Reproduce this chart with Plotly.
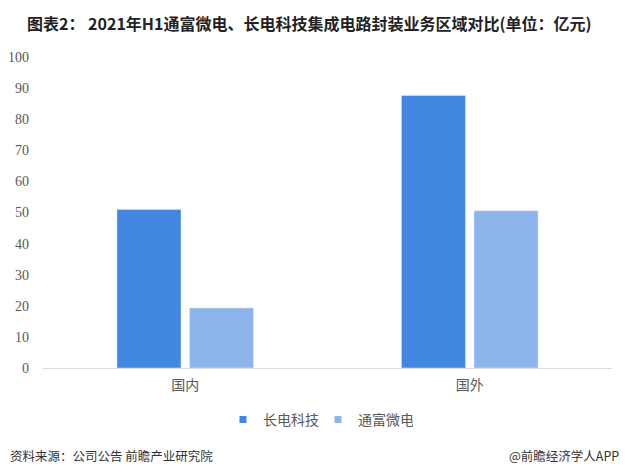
import plotly.graph_objects as go

categories = ["国内", "国外"]
changdian = [51, 87.6]
tongfu = [19.3, 50.6]
yticks = [0, 10, 20, 30, 40, 50, 60, 70, 80, 90, 100]

c1 = "#4186E1"
c2 = "#8DB5EC"

fig = go.Figure()
fig.add_trace(go.Bar(name="长电科技", x=categories, y=changdian, marker_color=c1, showlegend=False))
fig.add_trace(go.Bar(name="通富微电", x=categories, y=tongfu, marker_color=c2, showlegend=False))
# legend entries with small square symbols
fig.add_trace(go.Scatter(name="长电科技", x=[None], y=[None], mode="markers",
                         marker=dict(symbol="square", size=7, color=c1)))
fig.add_trace(go.Scatter(name="通富微电", x=[None], y=[None], mode="markers",
                         marker=dict(symbol="square", size=7, color=c2)))

fig.update_layout(
    width=620, height=468,
    barmode="group", bargap=0.49, bargroupgap=0.117,
    plot_bgcolor="white", paper_bgcolor="white",
    margin=dict(l=35, r=16, t=49, b=108, autoexpand=False),
    font=dict(family="Noto Sans CJK SC", color="#595959"),
    showlegend=True,
    legend=dict(orientation="h", xref="container", yref="container",
                x=0.5, xanchor="center", y=0.12, yanchor="middle",
                font=dict(size=14, color="#595959"), itemwidth=30,
                entrywidth=50, tracegroupgap=0),
    annotations=[
        dict(text="<b>图表2： 2021年H1通富微电、长电科技集成电路封装业务区域对比(单位：亿元)</b>",
             xref="paper", yref="paper", x=-0.032, y=1.109, xanchor="left", yanchor="middle",
             showarrow=False, font=dict(size=16, color="#222222", family="Noto Sans CJK SC")),
        dict(text="资料来源：公司公告 前瞻产业研究院", xref="paper", yref="paper",
             x=-0.0615, y=-0.28, xanchor="left", yanchor="middle", showarrow=False,
             font=dict(size=12.5, color="#333333")),
        dict(text="@前瞻经济学人APP", xref="paper", yref="paper",
             x=1.016, y=-0.28, xanchor="right", yanchor="middle", showarrow=False,
             font=dict(size=12.5, color="#333333")),
    ],
)
fig.update_yaxes(range=[0, 100], tickvals=yticks, showgrid=False, zeroline=False,
                 showline=False, ticks="", ticklabelstandoff=13,
                 tickfont=dict(family="Liberation Serif", size=14, color="#595959"))
fig.update_xaxes(showline=True, linecolor="#D9D9D9", linewidth=1, ticks="",
                 ticklabelstandoff=4,
                 tickfont=dict(size=14, color="#595959"))

fig.write_html("out.html")
